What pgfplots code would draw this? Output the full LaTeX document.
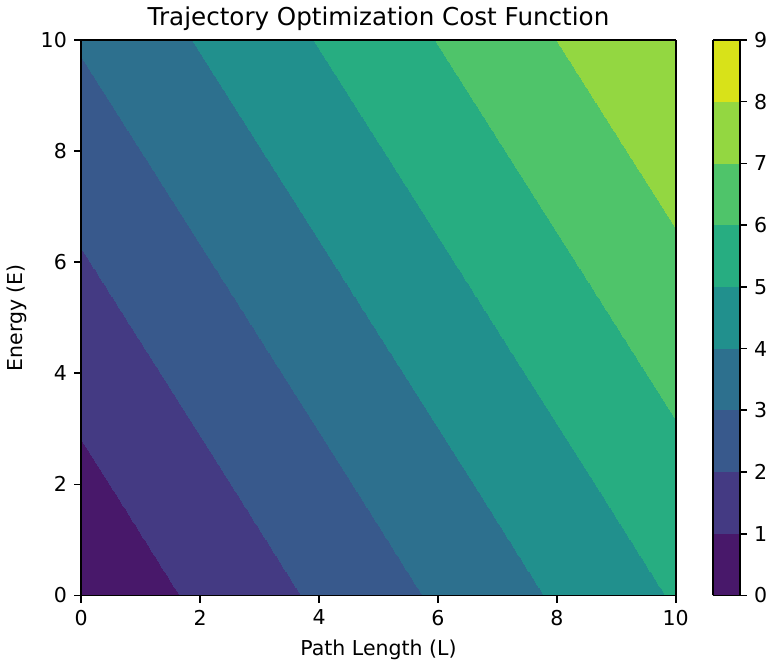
\documentclass[border=0pt]{standalone}
\usepackage{pgfplots}
\pgfplotsset{compat=1.18}
\usepackage{fontspec}
\setmainfont{DejaVu Sans}
\definecolor{v0}{HTML}{48186A}
\definecolor{v1}{HTML}{443A83}
\definecolor{v2}{HTML}{38598C}
\definecolor{v3}{HTML}{2D708E}
\definecolor{v4}{HTML}{21908D}
\definecolor{v5}{HTML}{27AD81}
\definecolor{v6}{HTML}{4FC46A}
\definecolor{v7}{HTML}{93D741}
\definecolor{v8}{HTML}{D8E219}
\begin{document}
\begin{tikzpicture}
\begin{axis}[
  scale only axis,
  width=290pt, height=271pt,
  view={0}{90},
  xmin=0, xmax=10, ymin=0, ymax=10,
  xtick={0,2,...,10}, ytick={0,2,...,10},
  tick align=outside,
  xtick pos=left, ytick pos=left,
  major tick length=3.5pt,
  tick style={black, line width=0.8pt},
  axis line style={black, line width=0.8pt},
  tick label style={font=\fontsize{10}{12}\selectfont},
  /pgf/number format/assume math mode=true,
  title={Trajectory Optimization Cost Function},
  title style={font=\fontsize{12}{14}\selectfont, yshift=-5pt},
  xlabel={Path Length (L)},
  ylabel={Energy (E)},
  label style={font=\fontsize{10}{12}\selectfont},
  colormap={vir}{color=(v0) color=(v1) color=(v2) color=(v3) color=(v4) color=(v5) color=(v6) color=(v7) color=(v8)},
  colormap access=piecewise constant,
  point meta min=0, point meta max=9,
  colorbar,
  colorbar shift/.style={xshift=8.5pt},
  colorbar style={
    width=13pt,
    ytick={0,1,...,9},
    tick align=outside,
    major tick length=3.5pt,
    ytick pos=right,
    yticklabel pos=right,
    tick style={black, line width=0.8pt},
    axis line style={black, line width=0.8pt},
    tick label style={font=\fontsize{10}{12}\selectfont},
    /pgf/number format/assume math mode=true,
  },
  axis on top,
]
\addplot3[surf, shader=interp, mesh/rows=6, mesh/cols=6]
table[x=L, y=E, z=C] {
L E C
0 0 0.19
2 0 1.17
4 0 2.15
6 0 3.13
8 0 4.11
10 0 5.09
0 2 0.77
2 2 1.75
4 2 2.73
6 2 3.71
8 2 4.69
10 2 5.67
0 4 1.35
2 4 2.33
4 4 3.31
6 4 4.29
8 4 5.27
10 4 6.25
0 6 1.93
2 6 2.91
4 6 3.89
6 6 4.87
8 6 5.85
10 6 6.83
0 8 2.51
2 8 3.49
4 8 4.47
6 8 5.45
8 8 6.43
10 8 7.41
0 10 3.09
2 10 4.07
4 10 5.05
6 10 6.03
8 10 7.01
10 10 7.99
};
\end{axis}
\end{tikzpicture}
\end{document}
